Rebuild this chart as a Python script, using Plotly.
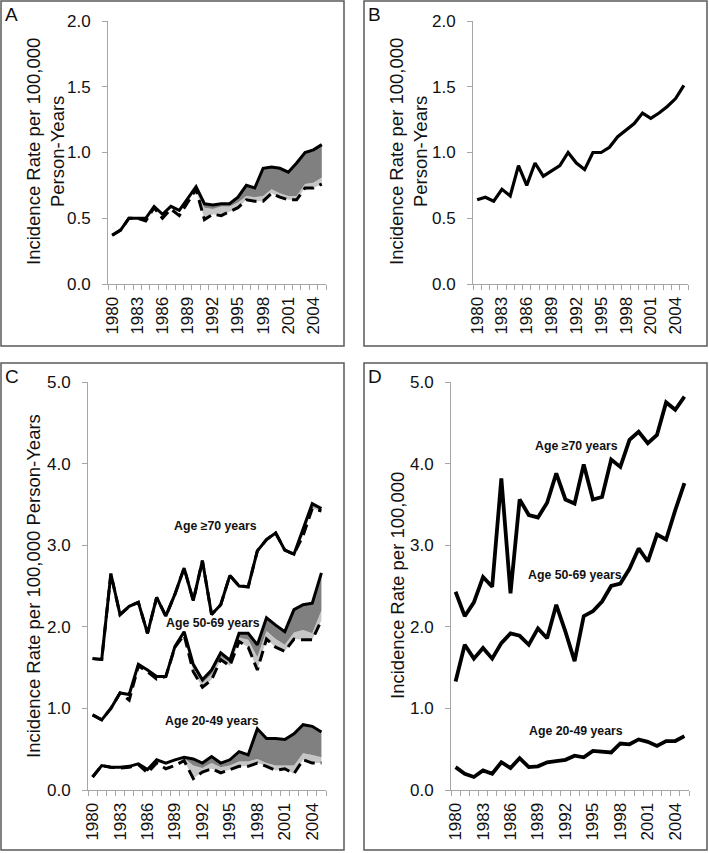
import plotly.graph_objects as go

W, H = 709, 853

# ---------------- data ----------------
YEARS = list(range(1980, 2006))
FILL_START = 1990  # shaded gap only drawn from this year on
FILL_YEARS = list(range(FILL_START, 2006))
X_TICK_START = 1980
X_TICK_STEP = 3

# Panel A
A_solid = [0.37, 0.41, 0.50, 0.50, 0.50, 0.59, 0.53, 0.59, 0.56, 0.65, 0.74, 0.61, 0.60,
           0.61, 0.61, 0.66, 0.75, 0.73, 0.88, 0.89, 0.88, 0.85, 0.92, 1.00, 1.02, 1.06]
A_dash = [0.37, 0.41, 0.50, 0.50, 0.48, 0.58, 0.50, 0.57, 0.52, 0.62, 0.72, 0.49, 0.53,
          0.52, 0.55, 0.58, 0.64, 0.63, 0.63, 0.69, 0.66, 0.64, 0.64, 0.73, 0.73, 0.76]
A_mid = [0.73, 0.58, 0.57, 0.59, 0.59, 0.62, 0.67, 0.66, 0.67, 0.72, 0.69, 0.67, 0.67,
         0.76, 0.77, 0.81]

# Panel B
B_solid = [0.64, 0.66, 0.63, 0.72, 0.67, 0.90, 0.75, 0.92, 0.82, 0.86, 0.90, 1.00, 0.92,
           0.87, 1.00, 1.00, 1.04, 1.12, 1.17, 1.22, 1.30, 1.26, 1.30, 1.35, 1.41, 1.51]

# Panel C
C70_solid = [1.61, 1.60, 2.65, 2.15, 2.25, 2.30, 1.92, 2.36, 2.13, 2.40, 2.72, 2.32, 2.81,
             2.15, 2.27, 2.63, 2.50, 2.49, 2.93, 3.07, 3.15, 2.94, 2.89, 3.21, 3.51, 3.45]
C70_dash = [1.61, 1.60, 2.65, 2.15, 2.25, 2.30, 1.92, 2.36, 2.13, 2.40, 2.72, 2.32, 2.81,
            2.15, 2.27, 2.63, 2.50, 2.49, 2.93, 3.07, 3.15, 2.94, 2.89, 3.12, 3.45, 3.42]
C70_mid = [2.72, 2.32, 2.81, 2.15, 2.27, 2.63, 2.50, 2.49, 2.93, 3.07, 3.15, 2.94, 2.89,
           3.15, 3.47, 3.43]

C50_solid = [0.92, 0.86, 1.00, 1.19, 1.17, 1.54, 1.47, 1.39, 1.39, 1.76, 1.94, 1.54, 1.35,
             1.47, 1.68, 1.59, 1.92, 1.92, 1.78, 2.11, 2.02, 1.94, 2.21, 2.27, 2.29, 2.66]
C50_dash = [0.92, 0.86, 1.00, 1.19, 1.10, 1.52, 1.45, 1.36, 1.39, 1.75, 1.90, 1.45, 1.26,
            1.35, 1.60, 1.52, 1.82, 1.75, 1.47, 1.85, 1.75, 1.70, 1.85, 1.84, 1.84, 2.08]
C50_mid = [1.92, 1.50, 1.31, 1.42, 1.63, 1.56, 1.87, 1.84, 1.63, 1.95, 1.85, 1.78, 1.93,
           1.96, 1.92, 2.20]

C20_solid = [0.16, 0.30, 0.28, 0.28, 0.29, 0.32, 0.25, 0.37, 0.33, 0.37, 0.40, 0.38, 0.33,
             0.41, 0.33, 0.37, 0.47, 0.43, 0.75, 0.63, 0.63, 0.62, 0.69, 0.80, 0.78, 0.71]
C20_dash = [0.16, 0.30, 0.28, 0.27, 0.28, 0.31, 0.21, 0.33, 0.26, 0.30, 0.36, 0.14, 0.22,
            0.26, 0.21, 0.25, 0.29, 0.29, 0.33, 0.29, 0.24, 0.26, 0.20, 0.37, 0.33, 0.33]
C20_mid = [0.39, 0.30, 0.27, 0.33, 0.28, 0.30, 0.35, 0.35, 0.38, 0.33, 0.30, 0.30, 0.30,
           0.45, 0.43, 0.40]

# Panel D
D70 = [2.43, 2.13, 2.30, 2.61, 2.49, 3.82, 2.41, 3.56, 3.37, 3.34, 3.52, 3.88, 3.56,
       3.51, 3.99, 3.56, 3.59, 4.05, 3.96, 4.29, 4.39, 4.25, 4.35, 4.75, 4.66, 4.82]
D50 = [1.33, 1.78, 1.61, 1.74, 1.61, 1.80, 1.92, 1.89, 1.78, 1.98, 1.86, 2.27, 1.94,
       1.58, 2.13, 2.19, 2.31, 2.50, 2.53, 2.71, 2.96, 2.80, 3.13, 3.07, 3.43, 3.76]
D20 = [0.28, 0.20, 0.16, 0.24, 0.20, 0.34, 0.27, 0.39, 0.28, 0.29, 0.34, 0.36, 0.37,
       0.42, 0.40, 0.48, 0.47, 0.46, 0.57, 0.56, 0.62, 0.59, 0.54, 0.60, 0.60, 0.66]

AGE_LABELS = ["Age \u226570 years", "Age 50-69 years", "Age 20-49 years"]
C_LABEL_POS = [(1993.4, 3.23), (1993.2, 2.05), (1993.05, 0.85)]
D_LABEL_POS = [(1993.2, 4.21), (1993.05, 2.63), (1993.2, 0.72)]

Y_TITLE_AB = "Incidence Rate per 100,000<br>Person-Years"
Y_TITLE_C = "Incidence Rate per 100,000 Person-Years"
Y_TITLE_D = "Incidence Rate per 100,000"

# ---------------- style ----------------
FONT = "Arial, 'Liberation Sans', sans-serif"
AXIS_GREY = "#a6a6a6"
DARK_FILL = "#808080"
LIGHT_FILL = "#c6c6c6"
BORDER = "#5a5a5a"

fig = go.Figure()


def px_x(p):
    return p / W


def px_y(p):
    return 1 - p / H


def group(xa, ya, solid, dash=None, mid=None, width=3.0):
    i0 = YEARS.index(FILL_START)
    if dash is not None and mid is not None:
        fig.add_trace(go.Scatter(x=FILL_YEARS, y=dash[i0:], mode="lines", line=dict(width=0),
                                 xaxis=xa, yaxis=ya, hoverinfo="skip", showlegend=False))
        fig.add_trace(go.Scatter(x=FILL_YEARS, y=mid, mode="lines", line=dict(width=0),
                                 fill="tonexty", fillcolor=LIGHT_FILL,
                                 xaxis=xa, yaxis=ya, hoverinfo="skip", showlegend=False))
        fig.add_trace(go.Scatter(x=FILL_YEARS, y=solid[i0:], mode="lines", line=dict(width=0),
                                 fill="tonexty", fillcolor=DARK_FILL,
                                 xaxis=xa, yaxis=ya, hoverinfo="skip", showlegend=False))
    if dash is not None:
        fig.add_trace(go.Scatter(x=YEARS, y=dash, mode="lines",
                                 line=dict(color="black", width=width, dash="11px,6px"),
                                 xaxis=xa, yaxis=ya, showlegend=False))
    fig.add_trace(go.Scatter(x=YEARS, y=solid, mode="lines",
                             line=dict(color="black", width=width),
                             xaxis=xa, yaxis=ya, showlegend=False))


group("x", "y", A_solid, A_dash, A_mid)
group("x2", "y2", B_solid, width=3.2)
group("x3", "y3", C70_solid, C70_dash, C70_mid)
group("x3", "y3", C50_solid, C50_dash, C50_mid)
group("x3", "y3", C20_solid, C20_dash, C20_mid)
group("x4", "y4", D70, width=3.8)
group("x4", "y4", D50, width=3.8)
group("x4", "y4", D20, width=3.8)

# axis geometry in pixels: (x0, x1, ytop, ybottom)
panels = {
    1: (108, 326, 21, 284, 2.0),
    2: (473, 688, 21, 284, 2.0),
    3: (88, 326, 382, 790, 5.0),
    4: (451, 689, 382, 790, 5.0),
}

layout = dict(width=W, height=H, margin=dict(l=0, r=0, t=0, b=0, autoexpand=False),
              template="none",
              paper_bgcolor="white", plot_bgcolor="white", showlegend=False,
              font=dict(family=FONT, color="#111"))

for k, (x0, x1, yt, yb, ymax) in panels.items():
    sx = "" if k == 1 else str(k)
    layout["xaxis" + sx] = dict(
        domain=[px_x(x0), px_x(x1)], anchor="y" + sx, range=[1979.5, 2005.5],
        automargin=False,
        tick0=X_TICK_START, dtick=X_TICK_STEP, tickangle=-90,
        ticks="outside", ticklen=5, tickcolor="rgba(0,0,0,0)",
        minor=dict(ticks="outside", tick0=1979.5, dtick=1, ticklen=5,
                   tickcolor=AXIS_GREY, tickwidth=1, showgrid=False),
        showline=True, linecolor=AXIS_GREY, linewidth=1, showgrid=False, zeroline=False,
        tickfont=dict(family=FONT, size=17, color="#111"), fixedrange=True)
    layout["yaxis" + sx] = dict(
        domain=[px_y(yb), px_y(yt)], anchor="x" + sx, range=[0, ymax],
        automargin=False,
        dtick=0.5 if ymax == 2.0 else 1.0, tickformat=".1f",
        ticks="outside", ticklen=5, tickcolor=AXIS_GREY, ticklabelstandoff=8,
        showline=True, linecolor=AXIS_GREY, linewidth=1, showgrid=False, zeroline=False,
        tickfont=dict(family=FONT, size=17, color="#111"), fixedrange=True)

fig.update_layout(**layout)

# panel borders
for (bx0, by0, bx1, by1) in [(1, 1, 344, 346), (364, 1, 707, 346),
                             (1, 363, 344, 850), (364, 363, 707, 850)]:
    fig.add_shape(type="rect", xref="paper", yref="paper",
                  x0=px_x(bx0), x1=px_x(bx1), y0=px_y(by1), y1=px_y(by0),
                  line=dict(color=BORDER, width=1.5), fillcolor="rgba(0,0,0,0)")

# panel letters
for letter, (lx, ly) in zip("ABCD", [(3, 2), (366, 2), (3, 364), (366, 364)]):
    fig.add_annotation(text=letter, xref="paper", yref="paper", x=px_x(lx), y=px_y(ly),
                       xanchor="left", yanchor="top", showarrow=False,
                       font=dict(family=FONT, size=19, color="#111"))

# y-axis titles
for text, cx, cy in [(Y_TITLE_AB, 45, 152), (Y_TITLE_AB, 408, 152),
                     (Y_TITLE_C, 33, 586), (Y_TITLE_D, 397, 586)]:
    fig.add_annotation(text=text, xref="paper", yref="paper", x=px_x(cx), y=px_y(cy),
                       xanchor="center", yanchor="middle", textangle=-90, showarrow=False,
                       font=dict(family=FONT, size=18.5, color="#111"))

# age labels
for lab, (ax, ay) in zip(AGE_LABELS, C_LABEL_POS):
    fig.add_annotation(text="<b>%s</b>" % lab, xref="x3", yref="y3", x=ax, y=ay,
                       showarrow=False, font=dict(family=FONT, size=12.3, color="#111"))
for lab, (ax, ay) in zip(AGE_LABELS, D_LABEL_POS):
    fig.add_annotation(text="<b>%s</b>" % lab, xref="x4", yref="y4", x=ax, y=ay,
                       showarrow=False, font=dict(family=FONT, size=12.3, color="#111"))

fig.write_html("out.html", config={"displayModeBar": False},
               post_script="document.body.style.margin='0';document.body.style.overflow='hidden';")
